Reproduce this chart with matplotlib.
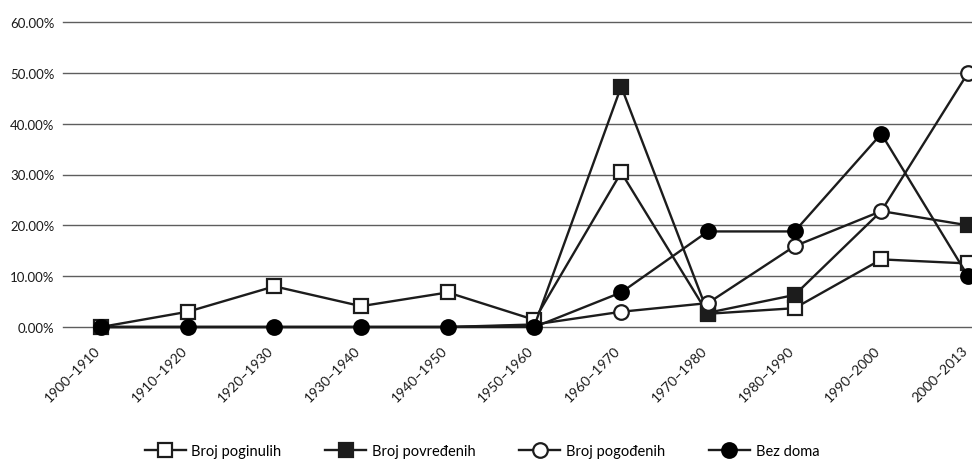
import matplotlib
matplotlib.use("Agg")
import matplotlib.pyplot as plt
from matplotlib.ticker import FuncFormatter

plt.rcParams['font.family'] = ['Lato', 'DejaVu Sans']

periods = ["1900–1910", "1910–1920", "1920–1930", "1930–1940", "1940–1950",
           "1950–1960", "1960–1970", "1970–1980", "1980–1990", "1990–2000",
           "2000–2013"]
poginulih = [0.0, 3.0, 8.0, 4.1, 6.8, 1.4, 30.4, 2.6, 3.7, 13.3, 12.5]
povredjenih = [0.0, 0.0, 0.0, 0.0, 0.0, 0.3, 47.3, 2.8, 6.3, 22.8, 20.0]
pogodjenih = [0.0, 0.0, 0.0, 0.0, 0.0, 0.5, 3.0, 4.7, 15.9, 22.8, 50.0]
bez_doma = [0.0, 0.0, 0.0, 0.0, 0.0, 0.0, 6.8, 18.8, 18.8, 38.0, 10.0]
series_names = ["Broj poginulih", "Broj povređenih", "Broj pogođenih", "Bez doma"]
y_ticks = [0, 10, 20, 30, 40, 50, 60]

W, H = 972, 460
fig = plt.figure(figsize=(W / 100, H / 100), dpi=100)
ax = fig.add_axes([63 / W, (H - 328) / H, (W - 63) / W, (328 - 23) / H])

x = list(range(len(periods)))
line_col = "#1c1c1c"
styles = [
    dict(marker="s", mfc="white", mec=line_col, markevery=None),
    dict(marker="s", mfc=line_col, mec=line_col, markevery=[6, 7, 8, 10]),
    dict(marker="o", mfc="white", mec=line_col, markevery=[6, 7, 8, 9, 10]),
    dict(marker="o", mfc="black", mec="black", markevery=None),
]
for i, (vals, name, st) in enumerate(zip([poginulih, povredjenih, pogodjenih, bez_doma],
                                         series_names, styles)):
    ax.plot(x, vals, color=line_col, lw=1.7, ms=10.5, mew=1.6, label=name,
            clip_on=False, zorder=3 + i, **st)

ax.set_xlim(-0.438, 10.046)
ax.set_ylim(0, 60)
ax.set_yticks(y_ticks)
ax.yaxis.set_major_formatter(FuncFormatter(lambda v, p: f"{v:.2f}%"))
ax.grid(axis="y", color="#5e5e5e", lw=1.0, zorder=1)
ax.set_axisbelow(True)
for gl in ax.get_ygridlines():
    gl.set_clip_on(False)
for s in ax.spines.values():
    s.set_visible(False)
ax.tick_params(axis="y", length=0, pad=6, labelsize=9.5, labelcolor="#1a1a1a")
ax.tick_params(axis="x", length=0)
ax.set_xticks(x)
ax.set_xticklabels([])
for xi, lab in zip(x, periods):
    ax.annotate(lab, xy=(xi, 0), xycoords="data", xytext=(-5, -12.2),
                textcoords="offset points", rotation=45, rotation_mode="anchor",
                ha="right", va="top", fontsize=10, color="#1a1a1a",
                annotation_clip=False)

handles, labels = ax.get_legend_handles_labels()
fig.legend(handles, labels, loc="center", bbox_to_anchor=(482 / W, 1 - 452 / H),
           ncol=4, frameon=False, fontsize=10.5, handlelength=2.8,
           handletextpad=0.4, columnspacing=3.0, markerscale=1.0)

fig.savefig("out.png", dpi=100, facecolor="white")
